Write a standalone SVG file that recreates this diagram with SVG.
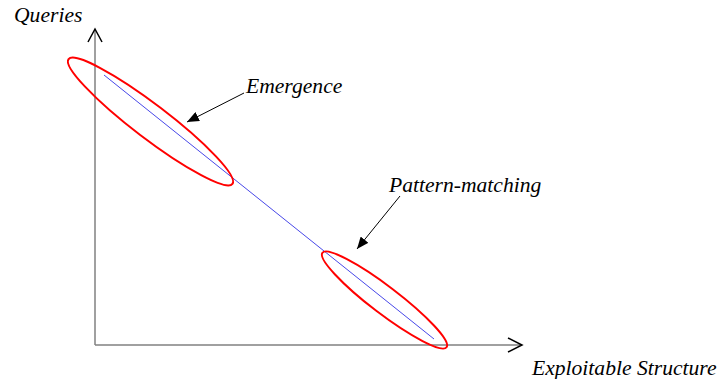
<svg xmlns="http://www.w3.org/2000/svg" width="718" height="379" viewBox="0 0 718 379">
<style>
.lbl{font-family:"Liberation Serif","Times New Roman",serif;font-style:italic;font-size:21.6px;fill:#000}
.axis{stroke:#808080;stroke-width:1.5;fill:none}
.head{stroke:#000;stroke-width:1.5;fill:none}
.ell{stroke:#ff0000;stroke-width:2;fill:none}
.ptr{stroke:#000;stroke-width:1;fill:none;marker-end:url(#tri)}
</style>
<defs>
<marker id="tri" viewBox="0 0 12 10" refX="12" refY="5" markerWidth="12" markerHeight="10" markerUnits="userSpaceOnUse" orient="auto">
<path d="M0,0 L12,5 L0,10 Z" fill="#000"/>
</marker>
</defs>
<rect width="718" height="379" fill="#fff"/>
<g id="axes">
<line class="axis" x1="95" y1="30" x2="95" y2="345"/>
<line class="axis" x1="95" y1="345" x2="521" y2="345"/>
<polyline class="head" points="88,42 95,29 102,42"/>
<polyline class="head" points="508,338 522,345 508,352"/>
</g>
<g id="trend">
<line x1="104" y1="75" x2="434" y2="339" stroke="#4848e8" stroke-width="1"/>
</g>
<g id="emergence">
<ellipse class="ell" cx="150.5" cy="121.5" rx="103" ry="17" transform="rotate(37.3 150.5 121.5)"/>
<text class="lbl" x="246" y="93">Emergence</text>
</g>
<g id="pattern-matching">
<ellipse class="ell" cx="384.5" cy="300" rx="78" ry="13.6" transform="rotate(37.3 384.5 300)"/>
<text class="lbl" x="389" y="192">Pattern-matching</text>
</g>
<g id="connectors">
<line class="ptr" x1="244" y1="93" x2="187" y2="122"/>
<line class="ptr" x1="400" y1="196" x2="357" y2="249"/>
</g>
<g id="labels">
<text class="lbl" x="14" y="22">Queries</text>
<text class="lbl" x="532" y="375">Exploitable Structure</text>
</g>
</svg>
